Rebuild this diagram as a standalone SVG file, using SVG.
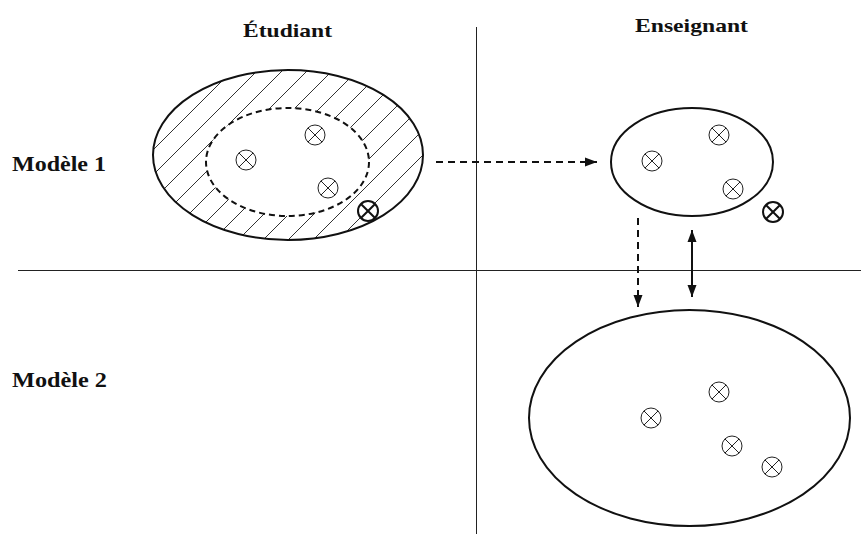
<svg xmlns="http://www.w3.org/2000/svg" xmlns:xlink="http://www.w3.org/1999/xlink" width="861" height="534" viewBox="0 0 861 534">
<style>
.lbl{font-family:"Liberation Serif","Times New Roman",serif;font-weight:bold;fill:#111;}
.ell{fill:none;stroke:#111;stroke-width:2;}
.div{stroke:#222;stroke-width:1;fill:none;}
.dash{stroke:#111;stroke-width:2;stroke-dasharray:7 5;fill:none;}
.inner{stroke:#111;stroke-width:2;stroke-dasharray:6 4;fill:#fff;}
.solid{stroke:#111;stroke-width:2;fill:none;}
.ox{fill:#fff;stroke:#222;stroke-width:1;}
.oxb{fill:#fff;stroke:#111;stroke-width:2;}
</style>
<defs>
<g id="sym">
<circle cx="0" cy="0" r="10"/>
<line x1="-7.07" y1="-7.07" x2="7.07" y2="7.07"/>
<line x1="-7.07" y1="7.07" x2="7.07" y2="-7.07"/>
</g>
<pattern id="hatch" patternUnits="userSpaceOnUse" x="3" y="0" width="25" height="25">
<path d="M0,25 L25,0 M-2,2 L2,-2 M23,27 L27,23" stroke="#333" stroke-width="1" fill="none"/>
</pattern>
<marker id="ah" markerUnits="userSpaceOnUse" markerWidth="13" markerHeight="10" refX="12" refY="4.5" orient="auto-start-reverse" viewBox="0 0 13 9">
<path d="M0,0 L12,4.5 L0,9 z" fill="#111"/>
</marker>
</defs>

<g id="dividers">
<line class="div" x1="476.5" y1="27" x2="476.5" y2="534"/>
<line class="div" x1="18" y1="270.5" x2="861" y2="270.5"/>
</g>

<g id="labels">
<text class="lbl" x="243" y="37" font-size="19" textLength="89" lengthAdjust="spacingAndGlyphs">Étudiant</text>
<text class="lbl" x="635" y="32" font-size="19" textLength="113" lengthAdjust="spacingAndGlyphs">Enseignant</text>
<text class="lbl" x="12" y="171" font-size="20" textLength="94" lengthAdjust="spacingAndGlyphs">Modèle 1</text>
<text class="lbl" x="12" y="387" font-size="20" textLength="95" lengthAdjust="spacingAndGlyphs">Modèle 2</text>
</g>

<g id="student-model1">
<ellipse cx="288" cy="155" rx="135" ry="85" fill="url(#hatch)" stroke="none"/>
<ellipse class="ell" cx="288" cy="155" rx="135" ry="85"/>
<ellipse class="inner" cx="287.5" cy="162" rx="81.5" ry="54"/>
<use xlink:href="#sym" class="ox" x="246" y="160"/>
<use xlink:href="#sym" class="ox" x="315" y="135"/>
<use xlink:href="#sym" class="ox" x="328" y="188"/>
<use xlink:href="#sym" class="oxb" x="368" y="211"/>
</g>

<g id="teacher-model1">
<ellipse class="ell" cx="692" cy="162" rx="81" ry="54"/>
<use xlink:href="#sym" class="ox" x="652" y="161"/>
<use xlink:href="#sym" class="ox" x="719" y="135"/>
<use xlink:href="#sym" class="ox" x="733" y="189"/>
<use xlink:href="#sym" class="oxb" x="773" y="212"/>
</g>

<g id="teacher-model2">
<ellipse class="ell" cx="689.5" cy="418" rx="160.5" ry="108"/>
<use xlink:href="#sym" class="ox" x="719" y="392"/>
<use xlink:href="#sym" class="ox" x="651" y="418"/>
<use xlink:href="#sym" class="ox" x="732" y="446"/>
<use xlink:href="#sym" class="ox" x="772" y="467"/>
</g>

<g id="connectors">
<line class="dash" x1="436" y1="162" x2="597" y2="162" marker-end="url(#ah)"/>
<line class="dash" x1="638" y1="218" x2="638" y2="307" marker-end="url(#ah)"/>
<line class="solid" x1="692" y1="230" x2="692" y2="297" marker-start="url(#ah)" marker-end="url(#ah)"/>
</g>
</svg>
